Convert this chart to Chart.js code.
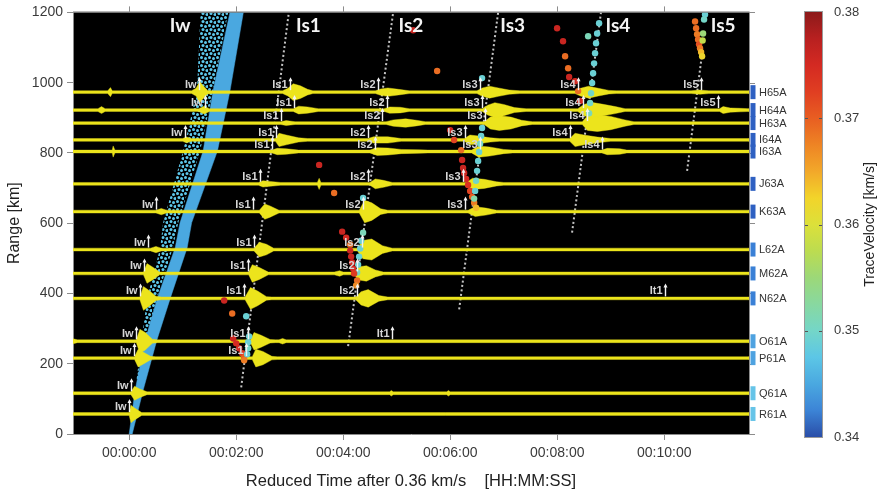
<!DOCTYPE html>
<html>
<head>
<meta charset="utf-8">
<script src="https://cdn.jsdelivr.net/npm/chart.js@4.4.1/dist/chart.umd.min.js"></script>
<style>
  body { margin: 0; background: #fff; }
  #wrap { position: relative; width: 881px; height: 493px; }
  #main { position: absolute; left: 0; top: 0; }
  #cbar { position: absolute; left: 790px; top: 0; }
</style>
</head>
<body>
<div id="wrap">
  <canvas id="main" width="881" height="493"></canvas>
  <canvas id="cbar" width="91" height="493"></canvas>
</div>
<script>
// stations, range in km
const stations = ['H65A','H64A','H63A','I64A','I63A','J63A','K63A','L62A','M62A','N62A','O61A','P61A','Q61A','R61A'];
const stationRange = [973, 922, 885, 837, 804, 712, 633, 525, 457, 386, 264, 216, 116, 57];

// trace envelopes per station: [reduced time (s), half amplitude (km)]
const traceEnvelope = [
  [[-63,4],[-24,4],[-21,13],[-19,4],[70,4],[75,11],[79,30],[83,18],[88,5],[94,4],[172,4],[178,11],[184,24],[192,18],[200,8],[206,4],[276,4],[282,9],[290,12],[302,8],[314,4],[390,4],[396,12],[404,17],[414,12],[426,6],[438,4],[500,4],[506,11],[515,17],[526,11],[538,5],[546,4],[630,4],[640,6],[650,4],[695,4]],
  [[-63,4],[-35,4],[-31,10],[-27,4],[78,4],[84,11],[90,4],[184,4],[190,11],[200,9],[212,4],[286,4],[292,9],[304,8],[314,4],[396,4],[402,14],[410,21],[420,16],[432,7],[445,4],[503,4],[510,16],[518,22],[530,17],[545,10],[556,4],[662,4],[666,10],[674,6],[685,5],[695,4]],
  [[-63,4],[170,4],[176,7],[186,4],[288,4],[296,9],[310,12],[322,8],[332,4],[398,4],[405,17],[415,21],[428,17],[440,8],[452,4],[508,4],[514,21],[525,24],[540,19],[556,9],[566,4],[695,4]],
  [[-63,4],[60,4],[64,8],[70,4],[164,4],[168,19],[176,14],[190,6],[200,4],[268,4],[274,9],[290,9],[305,4],[376,4],[382,14],[392,11],[405,6],[415,4],[494,4],[500,19],[510,14],[525,8],[540,4],[695,4]],
  [[-63,4],[-19,4],[-18,16],[-16,4],[160,4],[166,9],[176,8],[190,4],[270,4],[278,11],[290,10],[305,6],[325,5],[335,4],[384,4],[392,16],[404,13],[420,6],[430,4],[530,4],[536,9],[550,8],[558,4],[695,4]],
  [[-63,4],[145,4],[150,9],[158,7],[170,4],[211,4],[213,16],[215,4],[270,4],[276,14],[285,10],[295,4],[378,4],[385,16],[398,13],[412,6],[420,4],[695,4]],
  [[-63,4],[30,4],[36,9],[42,4],[146,4],[152,22],[158,16],[168,4],[258,4],[264,32],[272,25],[282,8],[290,4],[380,4],[388,14],[400,10],[412,4],[695,4]],
  [[-63,4],[24,4],[30,9],[36,4],[140,4],[146,21],[154,15],[162,4],[256,4],[262,26],[272,30],[284,11],[295,4],[695,4]],
  [[-63,4],[16,4],[20,28],[27,17],[34,4],[134,4],[138,25],[146,17],[156,4],[230,4],[236,8],[240,4],[252,4],[258,19],[266,22],[276,10],[285,4],[695,4]],
  [[-63,4],[12,4],[16,34],[22,23],[30,6],[36,4],[130,4],[136,31],[144,21],[154,5],[160,4],[254,4],[260,19],[268,25],[280,8],[290,4],[695,4]],
  [[-63,7],[-58,4],[8,4],[12,34],[18,25],[26,6],[32,4],[136,4],[140,25],[148,17],[158,5],[164,4],[168,4],[172,8],[176,4],[695,4]],
  [[-63,4],[6,4],[10,25],[16,17],[24,5],[30,4],[138,4],[142,25],[150,19],[160,5],[166,4],[695,4]],
  [[-63,4],[2,4],[6,20],[12,12],[20,4],[292,4],[294,8],[296,4],[356,4],[358,8],[360,4],[695,4]],
  [[-63,4],[0,4],[2,25],[6,17],[14,4],[695,4]]
];

// phase picks per station (s), null = no pick
const pickIw  = [78.5, 85.2, null, 62.8, null, null, 30.3, 21.3, 16.8, 12.3, 7.8, 5.6, 2.2, 0];
const pickIs1 = [180.5, 185, 170.4, 164.8, 160.3, 146.9, 139, 140.1, 133.4, 128.9, 133.4, 131.2, null, null];
const pickIs2 = [279.1, 289.2, 283.6, 267.9, 275.8, 267.9, 262.3, 261.2, 255.6, 255.6, null, null, null, null];
const pickIs3 = [393.5, 395.7, 399.1, 376.7, 393.5, 374.4, 376.7, null, null, null, null, null, null, null];
const pickIs4 = [503.4, 509, 513.5, 494.4, 530.3, null, null, null, null, null, null, null, null, null];
const pickIs5 = [641.3, 660.3, null, null, null, null, null, null, null, null, null, null, null, null];
const pickIt1 = [null, null, null, null, null, null, null, null, null, 600.9, 294.8, null, null, null];

// phase names across the top
const phaseNames = ['Iw', 'Is1', 'Is2', 'Is3', 'Is4', 'Is5'];
const phaseLabelT = [57, 201, 316, 430, 548, 666];

// moveout lines (dotted)
const moveoutT0 = [125.6, 245.5, 370, 496.6, 625.6];
const moveoutR0 = [133, 250, 355, 573, 749];
const moveoutT1 = [179, 296, 413.7, 529, 642];
const moveoutR1 = [1200, 1200, 1200, 1200, 1075];

// Iw arrival band (dense) and scattered cloud, edges as [time, range]
const iwBandR      = [0, 125, 267, 386, 530, 601, 806, 976, 1200];
const iwBandLeftT  = [0, 6.7, 18, 31.4, 51.6, 57, 83, 94, 113];
const iwBandRightT = [3.4, 15.7, 31, 46, 65, 70, 99, 113, 128];
const iwCloudR      = [150, 267, 386, 530, 601, 806, 976, 1200];
const iwCloudLeftT  = [8, 14, 20, 34.8, 38, 60.5, 76, 80];
const iwCloudRightT = [12, 19, 31, 49, 55, 79.6, 94, 111];
const iwBandVel = 0.345;

// detections: time, range, trace velocity
const detT = [106.5,115.5,131.2,116.6,120,123.3,126.7,128.9,134.5,133.4,133.4,132.3,128.9,
  213,229.8,262.3,238.8,243.3,247.8,262.3,260.1,259,257.8,256.7,255.6,247.8,248.9,250,251.1,252.2,255.6,254.5,318.4,345.3,
  395.7,359.9,364.3,372.2,373.3,374.4,375.6,377.8,380,382.3,384.5,386.8,389,395.7,394.6,393.5,392.4,391.3,390.1,389,387.9,386.8,
  479.8,486.5,488.8,492.2,493.3,500,503.4,505.6,514.6,526.9,524.7,523.5,522.4,521.3,520.2,519.1,517.9,516.8,515.7,
  645.7,644.6,634.5,635.7,636.8,637.9,639,640.1,641.3,642.4,643.5,643];
const detR = [380,343,335,272,258,244,230,218,278,261,244,227,210,
  766,686,672,576,559,539,573,550,528,505,482,460,522,505,488,471,457,437,423,1149,1033,
  1013,865,837,808,780,757,743,726,709,692,675,658,644,871,848,826,803,777,749,721,692,670,
  1155,1118,1075,1041,1016,1004,976,948,1132,1169,1140,1112,1084,1055,1027,999,970,942,913,
  1194,1180,1174,1155,1138,1123,1109,1098,1087,1075,1140,1120];
const detV = [0.376,0.369,0.349,0.376,0.375,0.375,0.373,0.370,0.349,0.349,0.350,0.349,0.368,
  0.376,0.369,0.349,0.376,0.375,0.369,0.351,0.349,0.349,0.349,0.349,0.350,0.376,0.376,0.375,0.375,0.373,0.369,0.367,0.376,0.369,
  0.349,0.376,0.372,0.369,0.376,0.376,0.376,0.375,0.374,0.372,0.370,0.368,0.364,0.349,0.349,0.350,0.349,0.349,0.349,0.350,0.349,0.352,
  0.376,0.376,0.369,0.369,0.376,0.375,0.369,0.375,0.351,0.349,0.349,0.349,0.349,0.349,0.349,0.349,0.350,0.350,0.351,
  0.349,0.350,0.369,0.369,0.368,0.369,0.371,0.368,0.364,0.362,0.355,0.358];

const xTicks = [0, 120, 240, 360, 480, 600];
const xTickLabels = ['00:00:00', '00:02:00', '00:04:00', '00:06:00', '00:08:00', '00:10:00'];
const yTicks = [0, 200, 400, 600, 800, 1000, 1200];
const cbTicks = [0.34, 0.35, 0.36, 0.37, 0.38];

const velMin = 0.34, velMax = 0.38;
const colormap = [
  [0.34, '#2a4ea8'], [0.3425, '#3c84d6'], [0.345, '#4aa8e0'], [0.3475, '#5cc6e6'],
  [0.35, '#74d6c8'], [0.3525, '#88d8a0'], [0.355, '#9cd878'], [0.3575, '#bcdc50'],
  [0.36, '#dce03a'], [0.3625, '#f2d42a'], [0.365, '#f2a82a'], [0.3675, '#ee8424'],
  [0.37, '#e85e22'], [0.3725, '#e03e22'], [0.375, '#d42a22'], [0.3775, '#b82020'], [0.38, '#8c1a1a']
];
const stationBoxColor = ['#2e60c2','#2e60c2','#2e60c2','#2e60c2','#2e60c2','#2e60c2','#2e60c2',
  '#3a80d6','#3a80d6','#3a80d6','#4ea2e0','#4ea2e0','#66c4e8','#66c4e8'];

const traceYellow = '#ece41c';
const fontFamily = '"Liberation Sans", Arial, sans-serif';

function hexRgb(h) {
  return [parseInt(h.slice(1,3),16), parseInt(h.slice(3,5),16), parseInt(h.slice(5,7),16)];
}
function velColor(v) {
  for (let i = 1; i < colormap.length; i++) {
    if (v <= colormap[i][0]) {
      const a = colormap[i-1], b = colormap[i];
      const f = (v - a[0]) / (b[0] - a[0]);
      const ca = hexRgb(a[1]), cb = hexRgb(b[1]);
      const c = ca.map((x, k) => Math.round(x + (cb[k] - x) * f));
      return 'rgb(' + c.join(',') + ')';
    }
  }
  return colormap[colormap.length-1][1];
}

// speckled fill for the scattered detections cloud (fixed dot layout in an 8px tile)
function dotPattern(color) {
  const tile = document.createElement('canvas');
  tile.width = 8; tile.height = 8;
  const t = tile.getContext('2d');
  t.fillStyle = color;
  [[1.5, 1.5], [5.5, 2.5], [3, 5.5], [7, 6.5]].forEach(([cx, cy]) => {
    t.beginPath();
    t.arc(cx, cy, 1.5, 0, Math.PI * 2);
    t.fill();
  });
  return document.getElementById('main').getContext('2d').createPattern(tile, 'repeat');
}

// closed outline from a left edge and a right edge
function band(leftT, rightT, r) {
  const pts = leftT.map((t, i) => ({x: t, y: r[i]}));
  for (let i = r.length - 1; i >= 0; i--) pts.push({x: rightT[i], y: r[i]});
  return pts;
}

const datasets = [];

datasets.push({
  data: detT.map((t, i) => ({x: t, y: detR[i]})),
  showLine: false,
  pointRadius: 3.2,
  pointHoverRadius: 3.2,
  pointBorderWidth: 0,
  pointBackgroundColor: detV.map(velColor),
  order: 0
});

traceEnvelope.forEach((env, s) => {
  const r0 = stationRange[s];
  const upper = env.map(p => ({x: p[0], y: r0 + p[1]}));
  const lower = env.slice().reverse().map(p => ({x: p[0], y: r0 - p[1]}));
  datasets.push({
    data: upper.concat(lower),
    fill: 'shape',
    backgroundColor: traceYellow,
    borderColor: traceYellow,
    borderWidth: 0.4,
    pointRadius: 0,
    order: 1
  });
});

datasets.push({
  data: band(iwBandLeftT, iwBandRightT, iwBandR),
  fill: 'shape',
  backgroundColor: velColor(iwBandVel),
  borderColor: velColor(iwBandVel),
  borderWidth: 0.5,
  pointRadius: 0,
  order: 2
});
datasets.push({
  data: band(iwCloudLeftT, iwCloudRightT, iwCloudR),
  fill: 'shape',
  backgroundColor: dotPattern('#5ec8ec'),
  borderWidth: 0,
  pointRadius: 0,
  order: 2
});

moveoutT0.forEach((t, i) => {
  datasets.push({
    data: [{x: t, y: moveoutR0[i]}, {x: moveoutT1[i], y: moveoutR1[i]}],
    borderColor: '#c4c4c4',
    borderWidth: 2,
    borderDash: [2, 2.5],
    pointRadius: 0,
    fill: false,
    order: 3
  });
});

const pickSets = [['Iw', pickIw], ['Is1', pickIs1], ['Is2', pickIs2], ['Is3', pickIs3],
  ['Is4', pickIs4], ['Is5', pickIs5], ['It1', pickIt1]];

const plotBg = {
  id: 'plotBg',
  beforeDraw(chart) {
    const {ctx, chartArea: a} = chart;
    ctx.save();
    ctx.fillStyle = '#000';
    ctx.fillRect(a.left, a.top, a.right - a.left, a.bottom - a.top);
    ctx.restore();
  }
};

const annotations = {
  id: 'annotations',
  afterDatasetsDraw(chart) {
    const {ctx, scales: {x, y}} = chart;
    ctx.save();
    // pick arrows + names
    ctx.font = 'bold 11px ' + fontFamily;
    ctx.textAlign = 'right';
    ctx.textBaseline = 'alphabetic';
    pickSets.forEach(([name, times]) => {
      times.forEach((t, s) => {
        if (t === null) return;
        const px = Math.round(x.getPixelForValue(t)) + 0.5;
        const py = y.getPixelForValue(stationRange[s]);
        ctx.strokeStyle = '#f2f2f2';
        ctx.lineWidth = 1.4;
        ctx.beginPath();
        ctx.moveTo(px, py - 2);
        ctx.lineTo(px, py - 13);
        ctx.stroke();
        ctx.fillStyle = '#f2f2f2';
        ctx.beginPath();
        ctx.moveTo(px - 2, py - 11);
        ctx.lineTo(px, py - 15);
        ctx.lineTo(px + 2, py - 11);
        ctx.fill();
        ctx.fillStyle = '#d6d6d6';
        ctx.fillText(name, px - 3, py - 4);
      });
    });
    // phase names along the top
    ctx.font = 'bold 19px Lato, "Open Sans", sans-serif';
    ctx.textAlign = 'center';
    ctx.textBaseline = 'middle';
    ctx.fillStyle = '#f4f4f4';
    phaseNames.forEach((n, i) => {
      ctx.fillText(n, x.getPixelForValue(phaseLabelT[i]), y.getPixelForValue(1163));
    });
    ctx.restore();
  },
  afterDraw(chart) {
    const {ctx, chartArea: a, scales: {x, y}} = chart;
    ctx.save();
    // box frame with mirrored ticks
    ctx.strokeStyle = '#8c8c8c';
    ctx.lineWidth = 1;
    ctx.beginPath();
    ctx.moveTo(a.left, a.top - 0.5);
    ctx.lineTo(a.right + 0.5, a.top - 0.5);
    ctx.lineTo(a.right + 0.5, a.bottom);
    xTicks.forEach(v => {
      const px = Math.round(x.getPixelForValue(v)) + 0.5;
      ctx.moveTo(px, a.top);
      ctx.lineTo(px, a.top - 6);
    });
    yTicks.forEach(v => {
      const py = Math.round(y.getPixelForValue(v)) + 0.5;
      ctx.moveTo(a.right, py);
      ctx.lineTo(a.right + 6, py);
    });
    ctx.stroke();
    // station markers and names
    ctx.font = '11px ' + fontFamily;
    ctx.textAlign = 'left';
    ctx.textBaseline = 'middle';
    stations.forEach((st, s) => {
      const py = y.getPixelForValue(stationRange[s]);
      ctx.fillStyle = stationBoxColor[s];
      ctx.fillRect(a.right + 1.5, py - 7, 5, 14);
      ctx.fillStyle = '#333';
      ctx.fillText(st, a.right + 10, py + 0.5);
    });
    ctx.restore();
  }
};

new Chart(document.getElementById('main'), {
  type: 'line',
  data: { datasets: datasets },
  options: {
    responsive: false,
    animation: false,
    events: [],
    layout: { padding: { top: 11, right: 132, left: 0, bottom: 0 } },
    plugins: { legend: { display: false }, tooltip: { enabled: false } },
    scales: {
      x: {
        type: 'linear',
        min: -63,
        max: 695,
        afterFit(s) { s.height = 59; },
        afterBuildTicks(s) { s.ticks = xTicks.map(v => ({value: v})); },
        grid: { drawOnChartArea: false, drawTicks: true, tickLength: 6, color: '#8c8c8c' },
        border: { display: true, color: '#8c8c8c' },
        ticks: {
          padding: 5,
          color: '#3a3a3a',
          font: { family: fontFamily, size: 14 },
          maxRotation: 0,
          callback: (v) => xTickLabels[xTicks.indexOf(v)]
        },
        title: {
          display: true,
          text: 'Reduced Time after 0.36 km/s    [HH:MM:SS]',
          color: '#222',
          font: { family: fontFamily, size: 16.5 },
          padding: { top: 0, bottom: 2 }
        }
      },
      y: {
        type: 'linear',
        min: 0,
        max: 1200,
        afterFit(s) { s.width = 73; },
        afterBuildTicks(s) { s.ticks = yTicks.map(v => ({value: v})); },
        grid: { drawOnChartArea: false, drawTicks: true, tickLength: 6, color: '#8c8c8c' },
        border: { display: true, color: '#8c8c8c' },
        ticks: {
          padding: 4,
          color: '#3a3a3a',
          font: { family: fontFamily, size: 14 },
          callback: (v) => String(v)
        },
        title: {
          display: true,
          text: 'Range [km]',
          color: '#222',
          font: { family: fontFamily, size: 16 },
          padding: { top: 5, bottom: 0 }
        }
      }
    }
  },
  plugins: [plotBg, annotations]
});

// colour bar
const cbarDecor = {
  id: 'cbarDecor',
  afterDatasetsDraw(chart) {
    const {ctx, chartArea: a, scales: {y}} = chart;
    ctx.save();
    ctx.strokeStyle = '#555';
    ctx.lineWidth = 1;
    ctx.beginPath();
    cbTicks.slice(1, -1).forEach(v => {
      const py = Math.round(y.getPixelForValue(v)) + 0.5;
      ctx.moveTo(a.left, py); ctx.lineTo(a.left + 3, py);
      ctx.moveTo(a.right - 3, py); ctx.lineTo(a.right, py);
    });
    ctx.stroke();
    ctx.strokeStyle = '#9a9a9a';
    ctx.strokeRect(a.left - 0.5, a.top - 0.5, a.right - a.left + 1, a.bottom - a.top + 1);
    // rotated axis title
    ctx.translate(80, (a.top + a.bottom) / 2);
    ctx.rotate(-Math.PI / 2);
    ctx.font = '14px ' + fontFamily;
    ctx.fillStyle = '#222';
    ctx.textAlign = 'center';
    ctx.textBaseline = 'middle';
    ctx.fillText('TraceVelocity [km/s]', 0, 0);
    ctx.restore();
  }
};

new Chart(document.getElementById('cbar'), {
  type: 'bar',
  data: {
    labels: [''],
    datasets: [{
      data: [[velMin, velMax]],
      barPercentage: 1,
      categoryPercentage: 1,
      borderWidth: 0,
      backgroundColor(c) {
        const a = c.chart.chartArea;
        if (!a) return null;
        const g = c.chart.ctx.createLinearGradient(0, a.bottom, 0, a.top);
        colormap.forEach(([v, col]) => g.addColorStop((v - velMin) / (velMax - velMin), col));
        return g;
      }
    }]
  },
  options: {
    responsive: false,
    animation: false,
    events: [],
    layout: { padding: { left: 15, top: 12, bottom: 56, right: 0 } },
    plugins: { legend: { display: false }, tooltip: { enabled: false } },
    scales: {
      x: { display: false },
      y: {
        position: 'right',
        min: velMin,
        max: velMax,
        afterFit(s) { s.width = 59; },
        afterBuildTicks(s) { s.ticks = cbTicks.map(v => ({value: v})); },
        grid: { display: false },
        border: { display: false },
        ticks: {
          padding: 4,
          color: '#3a3a3a',
          font: { family: fontFamily, size: 13 },
          callback: (v) => v.toFixed(2)
        }
      }
    }
  },
  plugins: [cbarDecor]
});
</script>
</body>
</html>
